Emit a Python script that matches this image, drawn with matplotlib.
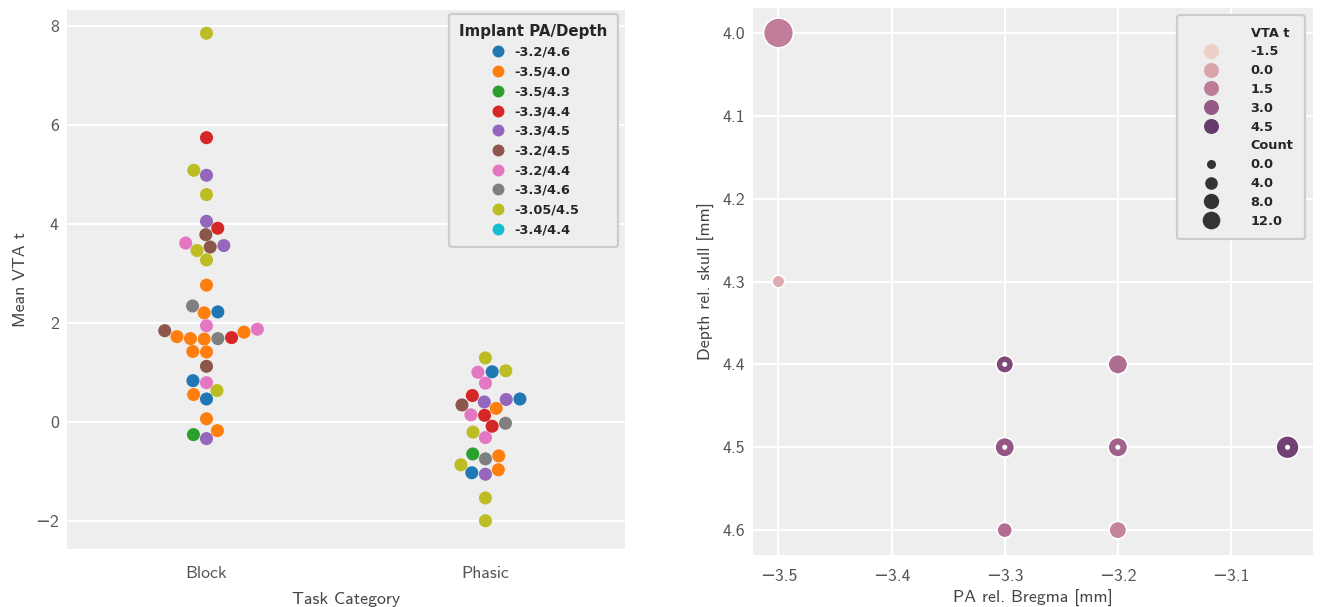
import numpy as np
import pandas as pd
import matplotlib
matplotlib.use('Agg')
import matplotlib.pyplot as plt
from matplotlib.lines import Line2D
from matplotlib.colors import Normalize
import seaborn as sns

# implant coordinates (PA/Depth), in legend order
implants = ['-3.2/4.6', '-3.5/4.0', '-3.5/4.3', '-3.3/4.4', '-3.3/4.5',
            '-3.2/4.5', '-3.2/4.4', '-3.3/4.6', '-3.05/4.5', '-3.4/4.4']

# mean VTA t per animal, block task
block_implant = (['-3.2/4.6'] * 3 + ['-3.5/4.0'] * 11 + ['-3.5/4.3'] * 1 + ['-3.3/4.4'] * 3 +
                 ['-3.3/4.5'] * 4 + ['-3.2/4.5'] * 4 + ['-3.2/4.4'] * 4 + ['-3.3/4.6'] * 2 +
                 ['-3.05/4.5'] * 6)
block_t = [2.22, 0.83, 0.46,
           2.76, 2.20, 1.81, 1.72, 1.68, 1.67, 1.42, 1.41, 0.55, 0.06, -0.18,
           -0.26,
           5.74, 3.91, 1.70,
           4.98, 4.05, 3.56, -0.34,
           3.78, 3.53, 1.84, 1.12,
           3.61, 1.94, 1.87, 0.79,
           2.34, 1.68,
           7.85, 5.08, 4.59, 3.46, 3.27, 0.63]

# mean VTA t per animal, phasic task
phasic_implant = (['-3.05/4.5'] * 6 + ['-3.2/4.4'] * 4 + ['-3.2/4.6'] * 3 + ['-3.3/4.4'] * 3 +
                  ['-3.3/4.5'] * 3 + ['-3.2/4.5'] * 1 + ['-3.5/4.0'] * 3 + ['-3.3/4.6'] * 2 +
                  ['-3.5/4.3'] * 1)
phasic_t = [1.29, 1.03, -0.21, -0.87, -1.54, -2.00,
            1.00, 0.78, 0.14, -0.32,
            1.01, 0.46, -1.03,
            0.53, 0.13, -0.09,
            0.40, 0.45, -1.06,
            0.34,
            0.27, -0.69, -0.97,
            -0.03, -0.75,
            -0.65]

# implant sites: block mean VTA t and number of animals
site_pa = [-3.5, -3.5, -3.3, -3.2, -3.3, -3.2, -3.3, -3.2, -3.05]
site_depth = [4.0, 4.3, 4.4, 4.4, 4.5, 4.5, 4.6, 4.6, 4.5]
site_t = [1.37, -0.26, 3.78, 2.05, 3.06, 2.57, 2.01, 1.17, 4.15]
site_count = [11, 1, 3, 4, 4, 4, 2, 3, 6]
site_repeat = [False, False, True, False, True, True, False, False, True]

t_levels = [-1.5, 0.0, 1.5, 3.0, 4.5]
count_levels = [0.0, 4.0, 8.0, 12.0]

df = pd.DataFrame({
    'Task Category': ['Block'] * len(block_t) + ['Phasic'] * len(phasic_t),
    'Mean VTA t': block_t + phasic_t,
    'Implant PA/Depth': block_implant + phasic_implant,
})

sns.set_style('white')
plt.rcParams['font.family'] = ['cmss10', 'DejaVu Sans']
plt.rcParams['axes.unicode_minus'] = True
bg = '#eeeeee'
tick_col = '#555555'
label_col = '#444444'
leg_font = {'family': 'DejaVu Sans', 'weight': 'bold', 'size': 9.3}

fig = plt.figure(figsize=(13.22, 6.07), dpi=100)
ax1 = fig.add_axes([0.0507, 0.0956, 0.422, 0.888])
ax2 = fig.add_axes([0.5696, 0.0857, 0.4236, 0.901])

for ax in (ax1, ax2):
    ax.set_facecolor(bg)
    for s in ax.spines.values():
        s.set_visible(False)
    ax.tick_params(length=0, labelsize=12.8, labelcolor=tick_col, pad=6)
    ax.set_axisbelow(True)
ax1.tick_params(axis='x', pad=12)
ax2.tick_params(axis='x', pad=10)

# left: swarm of animals per task
palette = dict(zip(implants, sns.color_palette('tab10', 10)))
sns.swarmplot(data=df, x='Task Category', y='Mean VTA t', hue='Implant PA/Depth',
              hue_order=implants, palette=palette, size=9.4, ax=ax1, legend=False)
ax1.set_xlim(-0.5, 1.5)
ax1.set_ylim(-2.57, 8.32)
ax1.set_yticks([-2, 0, 2, 4, 6, 8])
ax1.yaxis.grid(True, color='white', lw=1.6)
ax1.xaxis.grid(False)
ax1.set_xlabel('Task Category', fontsize=12.8, color=label_col, labelpad=8)
ax1.set_ylabel('Mean VTA t', fontsize=12.8, color=label_col, labelpad=5)

h1 = [Line2D([], [], ls='', marker='o', ms=8.6, mfc=palette[k], mec='none') for k in implants]
leg1 = ax1.legend(h1, implants, title='Implant PA/Depth', loc='upper right',
                  bbox_to_anchor=(0.9944, 1.0), frameon=True, fancybox=True,
                  facecolor=bg, edgecolor='#cccccc', framealpha=1, prop=leg_font,
                  labelspacing=0.52, handletextpad=0.5, borderpad=0.8, handlelength=1.6,
                  borderaxespad=0.3)
leg1.get_title().set_fontproperties({'family': 'DejaVu Sans', 'weight': 'bold', 'size': 10.8})
leg1.get_frame().set_linewidth(1.6)

# right: implant sites coloured by mean VTA t, sized by count
cmap = sns.cubehelix_palette(as_cmap=True)
norm = Normalize(vmin=-1.6, vmax=6.2)


def site_area(c):
    return 45 + 38 * np.asarray(c, dtype=float)


ax2.grid(True, color='white', lw=1.6)
ax2.scatter(site_pa, site_depth, s=site_area(site_count), c=cmap(norm(np.array(site_t))),
            edgecolors='white', linewidths=1.2, zorder=3)
rep = np.array(site_repeat)
ax2.scatter(np.array(site_pa)[rep], np.array(site_depth)[rep], s=13, c='white',
            edgecolors='none', zorder=4)
ax2.set_xlim(-3.5225, -3.0275)
ax2.set_ylim(4.63, 3.97)
ax2.set_xticks([-3.5, -3.4, -3.3, -3.2, -3.1])
ax2.set_yticks([4.0, 4.1, 4.2, 4.3, 4.4, 4.5, 4.6])
ax2.set_xlabel('PA rel. Bregma [mm]', fontsize=12.8, color=label_col, labelpad=4.5)
ax2.set_ylabel('Depth rel. skull [mm]', fontsize=12.8, color=label_col, labelpad=5)

blank = Line2D([], [], ls='', marker='')
h2 = [blank] + [Line2D([], [], ls='', marker='o', ms=10.8, mfc=cmap(norm(v)), mec='none')
                for v in t_levels]
l2 = ['VTA t'] + [f'{v:.1f}' for v in t_levels]
h2 += [blank] + [Line2D([], [], ls='', marker='o', ms=np.sqrt(42 + 10 * c), mfc='#333333',
                        mec='none') for c in count_levels]
l2 += ['Count'] + [f'{c:.1f}' for c in count_levels]
leg2 = ax2.legend(h2, l2, loc='upper right', bbox_to_anchor=(0.9927, 0.9945), frameon=True,
                  fancybox=True, facecolor=bg, edgecolor='#cccccc', framealpha=1,
                  prop=leg_font, labelspacing=0.45, handletextpad=1.38, borderpad=0.9,
                  handlelength=3.4, borderaxespad=0.3)
leg2.get_frame().set_linewidth(1.6)

fig.savefig('out.png', dpi=100)
